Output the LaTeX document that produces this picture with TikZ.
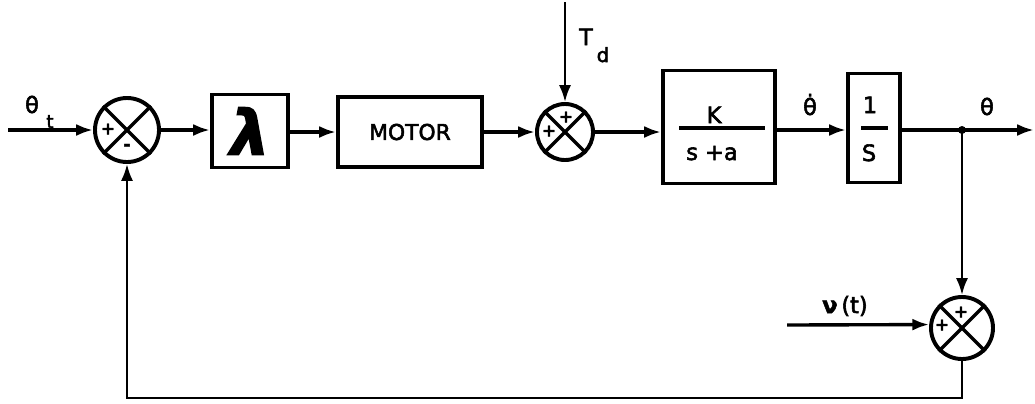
\documentclass[tikz,border=0pt]{standalone}
\usepackage{fontspec}
\setmainfont{DejaVu Sans}[FakeBold=2.5]
\usetikzlibrary{arrows.meta}

\begin{document}
\begin{tikzpicture}[
  x=0.025cm, y=-0.025cm,
  blk/.style={draw, line width=2.8pt, inner sep=0pt, font=\fontsize{15.5}{18}\selectfont},
  sumnode/.style={draw, circle, line width=2.8pt, inner sep=0pt},
  sgn/.style={font=\fontsize{12}{12}\selectfont\bfseries, inner sep=0pt},
  lab/.style={font=\fontsize{16}{18}\selectfont, inner sep=0pt, anchor=base},
  arr/.style={-{Latex[length=4.2mm,width=3mm]}, line width=2.4pt},
  ln/.style={line width=2.4pt},
  thinln/.style={line width=1.8pt}
]
\useasboundingbox (0,0) rectangle (1035,403);

% blocks of the loop
\node[sumnode, minimum size=1.6cm] (s1) at (127,130) {};
\node[blk, minimum width=1.9cm, minimum height=1.825cm, font=\fontsize{44}{44}\selectfont\bfseries\itshape] (lam) at (250,131) {λ};
\node[blk, minimum width=3.6cm, minimum height=1.75cm] (mot) at (410,132) {MOTOR};
\node[sumnode, minimum size=1.4cm] (s2) at (565,132) {};
\node[blk, minimum width=2.8cm, minimum height=2.825cm] (plant) at (719,127) {};
\node[blk, minimum width=1.3cm, minimum height=2.725cm] (integ) at (874,128) {};
\node[sumnode, minimum size=1.55cm] (s3) at (962,328) {};

% crosses in the summing points
\foreach \s in {s1,s2,s3} {
  \draw[ln] (\s.north west) -- (\s.south east);
  \draw[ln] (\s.north east) -- (\s.south west);
}

% fractions inside the blocks
\node[lab] (knum) at (714,123) {K};
\node[lab] (kden) at (712,160) {s +a};
\draw[ln] (679,128) -- (765,128);
\node[lab] (inum) at (870,113) {1};
\node[lab] (iden) at (869,161) {S};
\draw[ln] (861,128) -- (888,128);

% signs
\node[sgn] at (108,129) {+};
\node[sgn] at (127,147) {-};
\node[sgn] at (549,131) {+};
\node[sgn] at (566,117) {+};
\node[sgn] at (942,325) {+};
\node[sgn] at (961,312) {+};

% free ends
\coordinate (src) at (8,130);
\coordinate (outp) at (1034,130);
\coordinate (tdsrc) at (565,2);
\coordinate (nusrc) at (787,325);
\coordinate (jn) at (962,130);
\coordinate (fb) at (127,398);

% connectors
\draw[arr] (src) -- (s1.west);
\draw[arr] (s1.east) -- (s1.east -| lam.west);
\draw[arr] (lam.east |- mot) -- (mot.west);
\draw[arr] (mot.east) -- (s2.west);
\draw[arr] (s2.east) -- (s2.east -| plant.west);
\draw[arr] (plant.east |- jn) -- (integ.west |- jn);
\draw[arr] (integ.east |- jn) -- (outp);
\fill (jn) circle (4);
\draw[arr, thinln] (tdsrc) -- (s2.north);
\draw[arr, thinln] (jn) -- (s3.north);
\draw[arr] (nusrc) -- (s3.174);
\draw[arr, thinln] (s3.south) |- (fb) -- (s1.south);

% labels
\node[lab] (thetat) at (32,113) {θ};
\node[lab, font=\fontsize{13}{13}\selectfont] (thetatsub) at (50,128) {t};
\node[lab] (tdlab) at (586,45) {T};
\node[lab, font=\fontsize{14}{14}\selectfont] (tdsub) at (603,62) {d};
\node[lab] (thdot) at (810,115) {\.{θ}};
\node[lab] (thout) at (987,115) {θ};
\node[lab] (nulab) at (845,313) {\textbf{ν}\,(t)};
\end{tikzpicture}
\end{document}
